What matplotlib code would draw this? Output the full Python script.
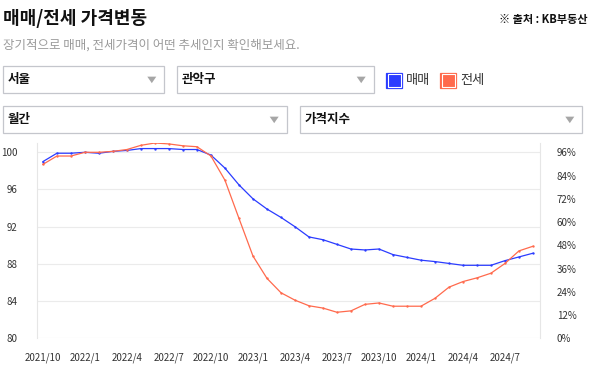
import matplotlib
matplotlib.use('Agg')
import matplotlib.pyplot as plt
from matplotlib.patches import Rectangle, Polygon

plt.rcParams['font.family'] = ['Noto Sans CJK KR', 'DejaVu Sans']

# 월별 (2021/10 ~ 2024/9)
months = ['2021/10', '2021/11', '2021/12', '2022/1', '2022/2', '2022/3', '2022/4', '2022/5', '2022/6',
          '2022/7', '2022/8', '2022/9', '2022/10', '2022/11', '2022/12', '2023/1', '2023/2', '2023/3',
          '2023/4', '2023/5', '2023/6', '2023/7', '2023/8', '2023/9', '2023/10', '2023/11', '2023/12',
          '2024/1', '2024/2', '2024/3', '2024/4', '2024/5', '2024/6', '2024/7', '2024/8', '2024/9']

# 매매 가격지수
sale_index = [99.0, 99.9, 99.9, 100.0, 99.9, 100.1, 100.2, 100.4, 100.4, 100.4, 100.3, 100.3,
              99.7, 98.3, 96.5, 95.0, 93.9, 93.0, 92.0, 90.9, 90.6, 90.1, 89.6, 89.5,
              89.6, 89.0, 88.7, 88.4, 88.25, 88.05, 87.85, 87.85, 87.85, 88.35, 88.75, 89.15]

# 전세 가격지수
jeonse_index = [98.7, 99.6, 99.6, 100.0, 100.0, 100.1, 100.3, 100.75, 101.0, 100.9, 100.7, 100.6,
                99.6, 97.0, 92.9, 88.85, 86.45, 84.9, 84.1, 83.5, 83.25, 82.8, 82.95, 83.65,
                83.8, 83.45, 83.45, 83.45, 84.3, 85.5, 86.1, 86.5, 87.0, 88.05, 89.4, 89.9]

left_ticks = [80, 84, 88, 92, 96, 100]
right_ticks = [0, 12, 24, 36, 48, 60, 72, 84, 96]

BLUE = '#2b3cff'
RED = '#ff6a4d'
W, H = 593, 368

fig = plt.figure(figsize=(W / 100, H / 100), dpi=100)

# 차트 영역
ax = fig.add_axes([37.3 / W, 1 - 338.3 / H, (540 - 37.3) / W, (338.3 - 143) / H])
x = list(range(len(months)))
ax.plot(x, sale_index, color=BLUE, lw=0.9, marker='o', ms=0.7)
ax.plot(x, jeonse_index, color=RED, lw=0.9, marker='o', ms=0.7)
ax.set_xlim(-0.4, 35.5)
ax.set_ylim(80, 101.0)
ax.set_yticks(left_ticks)
ax.set_xticks(x[::3])
ax.set_xticklabels(months[::3])
ax.grid(axis='y', color='#ebebeb', lw=0.8)
ax.set_axisbelow(True)
for s in ['top', 'bottom']:
    ax.spines[s].set_visible(False)
for s in ['left', 'right']:
    ax.spines[s].set_color('#e6e6e6')
ax.tick_params(length=0, labelsize=7, colors='#333333')
ax.tick_params(axis='y', pad=14)
ax.tick_params(axis='x', pad=10)

ax2 = ax.twinx()
ax2.set_ylim(0, 96 * 21 / 20)
ax2.set_yticks(right_ticks)
ax2.set_yticklabels([f'{t}%' for t in right_ticks])
ax2.tick_params(length=0, labelsize=7, colors='#333333', pad=12)
for s in ax2.spines.values():
    s.set_visible(False)

# 상단 UI 영역 (픽셀 좌표)
ui = fig.add_axes([0, 0, 1, 1], zorder=-1)
ui.set_xlim(0, W)
ui.set_ylim(H, 0)
ui.axis('off')

ui.text(3, 19, '매매/전세 가격변동', fontsize=13, fontweight='bold', color='#111111', va='center')
ui.text(588, 20, '※ 출처 : KB부동산', fontsize=8, fontweight='bold', color='#111111', va='center', ha='right')
ui.text(3, 45, '장기적으로 매매, 전세가격이 어떤 추세인지 확인해보세요.', fontsize=9, color='#9a9a9a', va='center')

boxes = [(3.3, 66, 164.3, 93.3, '서울'), (177.3, 66, 373.7, 93.3, '관악구'),
         (3.3, 106, 286.7, 133.3, '월간'), (299.7, 106, 582.3, 133.3, '가격지수')]
for x0, y0, x1, y1, label in boxes:
    ui.add_patch(Rectangle((x0, y0), x1 - x0, y1 - y0, fill=False, ec='#c4c6cc', lw=0.9))
    ui.text(x0 + 4.5, (y0 + y1) / 2, label, fontsize=9, fontweight='bold', color='#111111', va='center')
    ax_c = x1 - 12.5
    ay = (y0 + y1) / 2
    ui.add_patch(Polygon([(ax_c - 4.5, ay - 3), (ax_c + 4.5, ay - 3), (ax_c, ay + 3.5)],
                         closed=True, color='#a6a6a6', lw=0))

for sx, color, label in [(386.3, BLUE, '매매'), (440.3, RED, '전세')]:
    ui.add_patch(Rectangle((sx, 72.5), 15.5, 15.5, fc=color, ec=color, lw=0.9))
    ui.add_patch(Rectangle((sx + 1.2, 73.7), 13.1, 13.1, fill=False, ec='white', lw=0.8))
    ui.text(sx + 20, 80.5, label, fontsize=9.5, color='#333333', va='center')

fig.savefig('out.png', dpi=100)
